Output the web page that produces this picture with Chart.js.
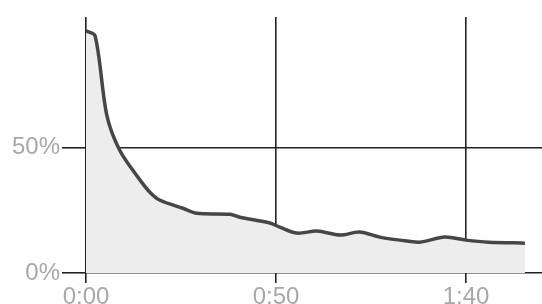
<!DOCTYPE html>
<html>
<head>
<meta charset="utf-8">
<script src="https://cdn.jsdelivr.net/npm/chart.js@4/dist/chart.umd.min.js"></script>
<style>
  body { margin: 0; background: #fff; }
  #wrap { width: 542px; height: 304px; }
</style>
</head>
<body>
<div id="wrap"><canvas id="chart" width="542" height="304"></canvas></div>
<script>
// elapsed time in seconds
const seconds = [0, 2.4, 5.5, 8.9, 13.7, 16.8, 19.5, 25.5, 29.2, 37.9, 40.5, 48.4, 51, 55.5, 60.8, 66.8, 72, 77.3, 82.6, 87.8, 94.4, 100, 106, 115.5];
// share remaining, percent
const percent = [96.5, 94.5, 62.7, 48.8, 38.1, 32.2, 29, 25.8, 23.8, 23.4, 22.2, 19.9, 18.3, 15.9, 16.7, 15.1, 16.3, 14.3, 13.1, 12.3, 14.3, 13.1, 12.3, 11.9];
const xTicks = [0, 50, 100];
const yTicks = [0, 50];

const points = seconds.map((s, i) => ({ x: s, y: percent[i] }));

function fmtTime(v) {
    const m = Math.floor(v / 60);
    const s = v % 60;
    return m + ":" + String(s).padStart(2, "0");
}

const labelFont = { family: "'Liberation Sans', Arial, sans-serif", size: 24 };

new Chart(document.getElementById("chart"), {
    type: "line",
    data: {
        datasets: [{
            data: points,
            borderColor: "#464646",
            borderWidth: 3.5,
            backgroundColor: "#ededed",
            fill: "origin",
            pointRadius: 0,
            tension: 0.3
        }]
    },
    options: {
        responsive: false,
        animation: false,
        layout: { padding: { top: 17, right: 0, left: 0, bottom: 0 } },
        plugins: { legend: { display: false }, tooltip: { enabled: false } },
        scales: {
            x: {
                type: "linear",
                min: 0,
                max: 120,
                afterBuildTicks: (axis) => { axis.ticks = xTicks.map(v => ({ value: v })); },
                afterFit: (axis) => { axis.height = 31; },
                border: { display: false },
                grid: { color: "#222", lineWidth: 1.6, tickLength: 10 },
                ticks: {
                    color: "#a8a8a8",
                    font: labelFont,
                    padding: 0,
                    maxRotation: 0,
                    callback: (v) => fmtTime(v)
                }
            },
            y: {
                min: 0,
                max: 102,
                afterBuildTicks: (axis) => { axis.ticks = yTicks.map(v => ({ value: v })); },
                afterFit: (axis) => { axis.width = 86; },
                border: { display: false },
                grid: { color: "#222", lineWidth: 1.6, tickLength: 24 },
                ticks: {
                    color: "#a8a8a8",
                    font: labelFont,
                    padding: 2,
                    callback: (v) => v + "%"
                }
            }
        }
    }
});
</script>
</body>
</html>
